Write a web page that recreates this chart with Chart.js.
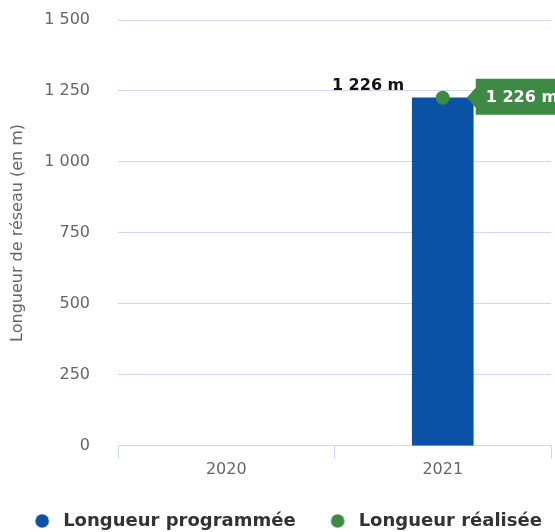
<!DOCTYPE html>
<html><head><meta charset="utf-8">
<script src="https://cdn.jsdelivr.net/npm/chart.js@4/dist/chart.umd.min.js"></script>
<style>html,body{margin:0;padding:0;background:#fff}#wrap{width:555px;height:532px}</style>
</head><body><div id="wrap"><canvas id="c" width="555" height="532"></canvas></div>
<script>
const categories = ["2020", "2021"];
const programmee = [null, 1226];
const realisee = [null, 1226];
const yTicks = [0, 250, 500, 750, 1000, 1250, 1500];

const fmt = v => String(Math.round(v)).replace(/\B(?=(\d{3})+(?!\d))/g, " ");
const FONT = "'DejaVu Sans', 'Liberation Sans', Arial, sans-serif";
const BLUE = "#0a52a5", GREEN = "#3e8a45";

// legend marker: 45px wide image, dot placed so text starts 21px after dot centre
function dot(color) {
  const c = document.createElement("canvas");
  c.width = 45; c.height = 14;
  const g = c.getContext("2d");
  g.fillStyle = color;
  g.beginPath(); g.arc(33, 7, 6.8, 0, Math.PI * 2); g.fill();
  return c;
}
const dots = [dot(BLUE), dot(GREEN)];

const labelPlugin = {
  id: "labels",
  afterDatasetsDraw(chart) {
    const ctx = chart.ctx;
    const barMeta = chart.getDatasetMeta(0);
    const ptMeta = chart.getDatasetMeta(1);
    ctx.save();
    barMeta.data.forEach((el, i) => {
      const v = programmee[i];
      if (v == null) return;
      ctx.font = "bold 16px " + FONT;
      ctx.fillStyle = "#111";
      ctx.textAlign = "right";
      ctx.textBaseline = "middle";
      ctx.fillText(fmt(v) + " m", el.x - el.width / 2 - 8, el.y - 12);
    });
    ptMeta.data.forEach((el, i) => {
      const v = realisee[i];
      if (v == null) return;
      const x0 = el.x + 24, y = el.y;
      ctx.fillStyle = GREEN;
      ctx.beginPath();
      ctx.moveTo(x0, y);
      ctx.lineTo(x0 + 9, y - 10);
      ctx.lineTo(x0 + 9, y - 19);
      ctx.lineTo(x0 + 120, y - 19);
      ctx.lineTo(x0 + 120, y + 17);
      ctx.lineTo(x0 + 9, y + 17);
      ctx.lineTo(x0 + 9, y + 10);
      ctx.closePath();
      ctx.fill();
      ctx.font = "bold 16px " + FONT;
      ctx.fillStyle = "#fff";
      ctx.textAlign = "left";
      ctx.textBaseline = "middle";
      ctx.fillText(fmt(v) + " m", x0 + 19, y);
    });
    ctx.restore();
  }
};

new Chart(document.getElementById("c"), {
  type: "bar",
  data: {
    labels: categories,
    datasets: [
      { label: "Longueur programmée", data: programmee, backgroundColor: BLUE, barThickness: 61, order: 2 },
      { type: "line", label: "Longueur réalisée", data: realisee, showLine: false, clip: false,
        backgroundColor: GREEN, borderColor: GREEN, pointRadius: 7, pointHoverRadius: 7, borderWidth: 0, order: 1 }
    ]
  },
  options: {
    responsive: false,
    animation: false,
    devicePixelRatio: 1,
    layout: { autoPadding: false, padding: { top: 20, right: 4, left: 0, bottom: -8 } },
    plugins: {
      legend: {
        position: "bottom",
        labels: {
          usePointStyle: true, pointStyleWidth: 45, boxHeight: 14, padding: 9,
          color: "#333", font: { family: FONT, size: 18, weight: "bold" },
          sort: (a, b) => a.datasetIndex - b.datasetIndex,
          generateLabels(chart) {
            const items = Chart.defaults.plugins.legend.labels.generateLabels(chart);
            items.forEach(it => { it.pointStyle = dots[it.datasetIndex]; });
            return items;
          }
        }
      },
      tooltip: { enabled: false }
    },
    scales: {
      x: {
        grid: { drawOnChartArea: false, color: "#cfd8ee", tickLength: 13, lineWidth: 1 },
        border: { color: "#cfd8ee" },
        ticks: { color: "#666", font: { family: FONT, size: 16 }, padding: 1 },
        afterFit: s => { s.height += 23; s.paddingLeft = 0; s.paddingRight = 0; }
      },
      y: {
        min: 0, max: 1500,
        afterBuildTicks: s => { s.ticks = yTicks.map(v => ({ value: v })); },
        grid: { color: "#cfd8ee", tickColor: "rgba(0,0,0,0)", tickLength: 21 },
        border: { display: false },
        ticks: { color: "#666", font: { family: FONT, size: 16 }, padding: 7, callback: v => fmt(v) },
        title: { display: true, text: "Longueur de réseau (en m)", color: "#666", font: { family: FONT, size: 16 }, padding: { top: 8, bottom: 10 } }
      }
    }
  },
  plugins: [labelPlugin]
});
</script></body></html>
